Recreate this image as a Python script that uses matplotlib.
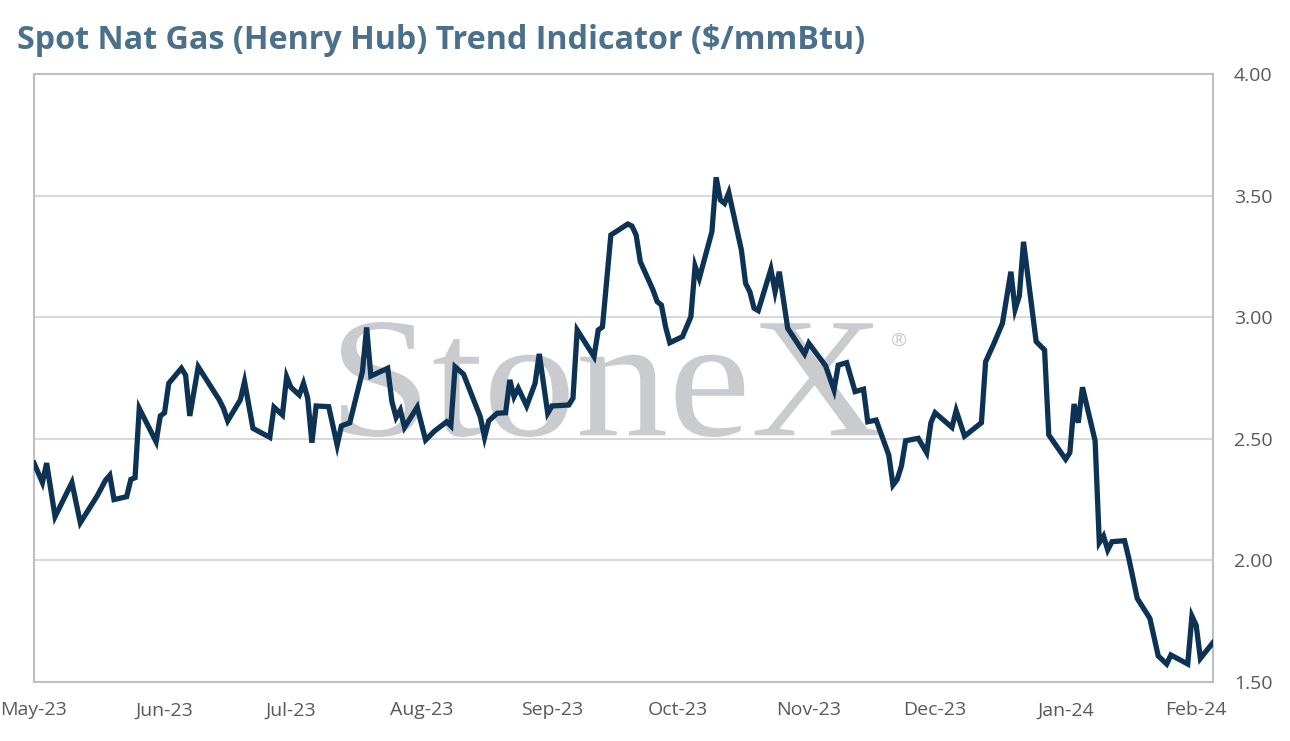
import matplotlib
matplotlib.use("Agg")
import matplotlib.pyplot as plt
import matplotlib.dates as mdates
from matplotlib.textpath import TextPath
from matplotlib.patches import PathPatch
from matplotlib.font_manager import FontProperties
from matplotlib.transforms import Affine2D
import pandas as pd

# day offsets from 1 May 2023 and spot price ($/mmBtu)
start = pd.Timestamp("2023-05-01")
days = [0, 2, 3, 5, 9, 11, 15, 17, 18, 19, 22, 23, 24, 25, 29, 30, 31, 32,
        35, 36, 37, 39, 44, 45, 46, 49, 50, 52, 56, 57, 59, 60, 61, 63, 64,
        65, 66, 67, 70, 72, 73, 75, 78, 79, 80, 84, 85, 86, 87, 88, 91, 93,
        95, 98, 99, 100, 102, 106, 107, 108, 110, 112, 113, 114, 115, 117,
        119, 120, 122, 123, 127, 128, 129, 133, 134, 135, 137, 141, 142, 143,
        144, 147, 148, 149, 150, 151, 154, 156, 157, 158, 161, 162, 163, 164,
        165, 168, 169, 170, 171, 172, 175, 176, 177, 179, 183, 184, 188, 190,
        191, 193, 195, 197, 198, 200, 203, 204, 205, 206, 207, 210, 212, 213,
        214, 218, 219, 221, 225, 226, 228, 230, 232, 233, 234, 235, 238, 240,
        241, 245, 246, 247, 248, 249, 252, 253, 254, 255, 256, 259, 260, 262,
        265, 267, 269, 270, 274, 275, 276, 277, 280]
price = [2.40, 2.32, 2.40, 2.18, 2.32, 2.155, 2.265, 2.33, 2.35, 2.25, 2.262,
         2.333, 2.34, 2.625, 2.488, 2.594, 2.607, 2.728, 2.79, 2.762, 2.594,
         2.796, 2.66, 2.625, 2.574, 2.66, 2.735, 2.543, 2.506, 2.63, 2.598,
         2.755, 2.712, 2.68, 2.728, 2.667, 2.484, 2.635, 2.632, 2.474, 2.553,
         2.566, 2.776, 2.958, 2.758, 2.79, 2.653, 2.588, 2.618, 2.547, 2.63,
         2.495, 2.53, 2.57, 2.553, 2.796, 2.766, 2.59, 2.506, 2.574, 2.605,
         2.607, 2.742, 2.673, 2.708, 2.635, 2.728, 2.849, 2.605, 2.635, 2.639,
         2.667, 2.947, 2.838, 2.947, 2.96, 3.338, 3.383, 3.375, 3.338, 3.228,
         3.112, 3.064, 3.05, 2.96, 2.895, 2.92, 3.002, 3.21, 3.16, 3.352,
         3.575, 3.482, 3.468, 3.512, 3.276, 3.139, 3.105, 3.037, 3.027, 3.197,
         3.105, 3.187, 2.954, 2.849, 2.893, 2.80, 2.701, 2.803, 2.813, 2.694,
         2.704, 2.57, 2.577, 2.433, 2.31, 2.333, 2.388, 2.492, 2.502, 2.443,
         2.566, 2.607, 2.547, 2.616, 2.511, 2.566, 2.817, 2.893, 2.975, 3.187,
         3.032, 3.087, 3.31, 2.90, 2.865, 2.516, 2.416, 2.443, 2.643, 2.566,
         2.712, 2.492, 2.073, 2.10, 2.043, 2.077, 2.081, 2.009, 1.844, 1.762,
         1.607, 1.574, 1.611, 1.574, 1.771, 1.734, 1.597, 1.662]

month_ticks = pd.date_range("2023-05-01", "2024-02-01", freq="MS")
y_ticks = [1.5, 2.0, 2.5, 3.0, 3.5, 4.0]

dates = start + pd.to_timedelta(days, unit="D")

plt.rcParams["font.family"] = ["Open Sans", "DejaVu Sans"]

W, H = 1290, 741
fig = plt.figure(figsize=(W / 100, H / 100), dpi=100)
ax = fig.add_axes([34 / W, 59 / H, 1179 / W, 608 / H])

ax.plot(dates, price, color="#0c3354", lw=3.8, solid_joinstyle="miter", zorder=3)

ax.set_xlim(start, start + pd.Timedelta(days=280))
ax.set_ylim(1.5, 4.0)
ax.set_yticks(y_ticks)
ax.yaxis.set_major_formatter(matplotlib.ticker.FormatStrFormatter("%.2f"))
ax.yaxis.tick_right()
ax.set_xticks(month_ticks)
ax.xaxis.set_major_formatter(mdates.DateFormatter("%b-%y"))
ax.tick_params(axis="both", length=0, labelsize=14, colors="#595959")
ax.tick_params(axis="y", pad=15)
ax.tick_params(axis="x", pad=14)
ax.grid(axis="y", color="#d9d9d9", lw=1.5, zorder=0)
for sp in ax.spines.values():
    sp.set_color("#bfbfbf")
    sp.set_linewidth(1.5)

# watermark, stretched to the logo box (pixels: x 341-881, y 322-437 from top)
tp = TextPath((0, 0), "StoneX", size=1, prop=FontProperties(family="Liberation Serif"))
ext = tp.get_extents()
x0, x1, ytop, ybot = 341, 881, 322, 437
sx = (x1 - x0) / ext.width
sy = (ybot - ytop) / ext.height
tr = (Affine2D().translate(-ext.x0, -ext.y0).scale(sx, sy)
      .translate(x0, H - ybot).scale(1 / W, 1 / H) + fig.transFigure)
wm = PathPatch(tp, facecolor="#cacbce", edgecolor="none", transform=tr, zorder=1)
ax.add_patch(wm)
fig.text(899 / W, 1 - 341 / H, "®", ha="center", va="center",
         fontsize=14, color="#cacbce")

fig.text(17 / W, 1 - 49 / H, "Spot Nat Gas (Henry Hub) Trend Indicator ($/mmBtu)",
         fontsize=23.2, fontweight="bold", color="#4a708b",
         ha="left", va="baseline")

fig.savefig("out.png", dpi=100)
